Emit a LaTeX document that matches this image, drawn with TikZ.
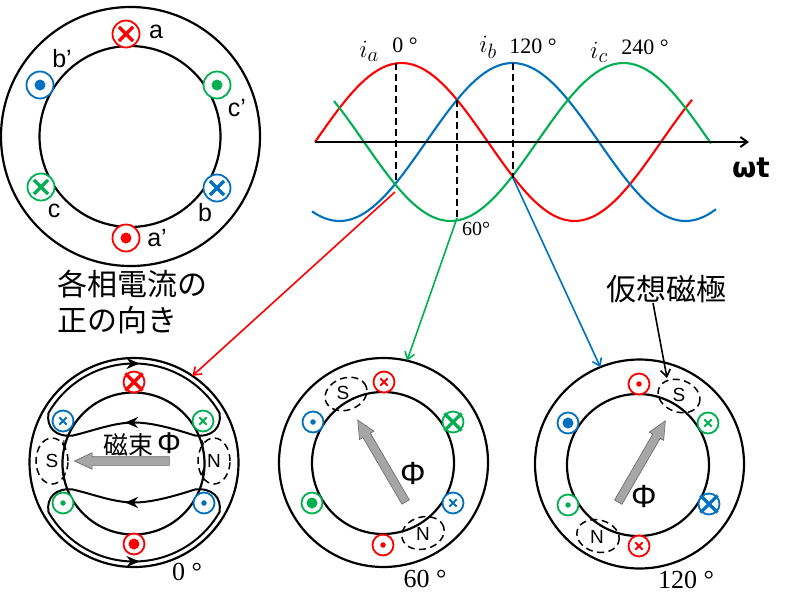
\documentclass[tikz,border=0pt]{standalone}
\usepackage{fontspec}
\setmainfont{Liberation Serif}
\setsansfont{Liberation Sans}
\newfontfamily\jpfont{Noto Sans CJK JP}
\newfontfamily\omegafont{DejaVu Sans}
\usepackage{xcolor}
\usepackage{tikz}
\usetikzlibrary{arrows.meta, shapes.geometric, shapes.misc, shapes.arrows}

\definecolor{phasered}{HTML}{FF0000}
\definecolor{phaseblue}{HTML}{0070C0}
\definecolor{phasegreen}{HTML}{00B050}

\tikzset{
    stator/.style={circle, draw, line width=2.2pt, minimum size=209pt, inner sep=0pt, outer sep=0pt},
    rotor/.style={circle, draw, line width=2.2pt, minimum size=142pt, inner sep=0pt, outer sep=0pt},
    coilsize/.style={minimum size=21pt},
    coil/.style={circle, draw=#1, fill=white, line width=1.8pt, inner sep=0pt, coilsize},
    largecross/.style={cross out, draw=#1, line width=3.2pt, minimum size=11pt, inner sep=0pt},
    bigcross/.style={cross out, draw=#1, line width=3.2pt, minimum size=14pt, inner sep=0pt},
    smallcross/.style={cross out, draw=#1, line width=1.8pt, minimum size=5.5pt, inner sep=0pt},
    bigdot/.style={circle, fill=#1, minimum size=11pt, inner sep=0pt},
    smalldot/.style={circle, fill=#1, minimum size=5.5pt, inner sep=0pt},
    pole/.style={ellipse, draw, dashed, dash pattern=on 7pt off 4.5pt, line width=1.5pt, minimum width=43pt, minimum height=32pt, inner sep=0pt},
    polename/.style={font=\sffamily\fontsize{19}{19}\selectfont, inner sep=0pt},
    fluxarrow/.style={single arrow, draw=black!60, fill=black!35, line width=.6pt, inner sep=4pt, single arrow head extend=4pt, single arrow head indent=0pt, single arrow tip angle=50, outer sep=0pt},
    fluxsym/.style={font=\sffamily\fontsize{32}{32}\selectfont, inner sep=0pt},
    letter/.style={font=\sffamily\fontsize{25}{25}\selectfont, inner sep=0pt},
    angletext/.style={font=\fontsize{26}{26}\selectfont, inner sep=0pt},
    toplabel/.style={font=\fontsize{22}{22}\selectfont, inner sep=0pt},
    phasename/.style={font=\fontsize{28}{28}\selectfont, inner sep=0pt},
    jptext/.style={font=\jpfont\fontsize{30}{36}\selectfont, inner sep=0pt, align=left},
    wave/.style={line width=2.1pt, smooth, samples=90},
    peakline/.style={dashed, dash pattern=on 7pt off 4pt, line width=2pt},
    pointer/.style={line width=1.6pt, ->},
    fluxline/.style={line width=2pt},
    bigtip/.style={fluxline, -{Stealth[length=13pt,width=11pt]}},
    smalltip/.style={line width=1pt, -{Stealth[length=5pt,width=4pt]}}
}

% conductor: circle and its cross or dot
\newcommand{\coil}[4]{
    \node[coil=#3] (#1) at (#2) {};
    \node[#4=#3] (#1mark) at (#1) {};
}

\begin{document}
\begin{tikzpicture}[x=1pt, y=-1pt, >={Straight Barb[length=7pt,width=10pt]}]
    \useasboundingbox (0,0) rectangle (792,595);

    % Positive current directions
    \node[stator, minimum size=259pt] (refouter) at (130.5,136.5) {};
    \node[rotor, minimum size=181pt] (refinner) at (130,136.5) {};
    \begin{scope}[coilsize/.style={minimum size=27pt}]
        \coil{refa}{126,34}{phasered}{largecross}
        \coil{refaa}{126,238}{phasered}{bigdot}
        \coil{refbb}{40,85}{phaseblue}{bigdot}
        \coil{refcc}{217,85}{phasegreen}{bigdot}
        \coil{refc}{41,187}{phasegreen}{largecross}
        \coil{refb}{217,188}{phaseblue}{largecross}
    \end{scope}
    \node[letter] (laba) at (156,32) {a};
    \node[letter] (labaa) at (157,238) {a’};
    \node[letter] (labbb) at (62,59) {b’};
    \node[letter] (labcc) at (237,108) {c’};
    \node[letter] (labc) at (54,211) {c};
    \node[letter] (labb) at (205,213) {b};
    \node[jptext, anchor=north west] (dirtext) at (57,270) {各相電流の\\正の向き};

    % Three phase currents
    \draw[wave, phasered, domain=315:692] plot (\x, {142-79*sin(1.0405*(\x-315))});
    \draw[wave, phaseblue, domain=312:716] plot (\x, {142-79*sin(1.0405*(\x-426))});
    \draw[wave, phasegreen, domain=334:711] plot (\x, {142-79*sin(1.0405*(\x-537))});
    \coordinate (axisstart) at (315,142);
    \coordinate (axisend) at (749,142);
    \draw[line width=2pt, ->] (axisstart) -- (axisend);
    \node[font=\omegafont\bfseries\fontsize{28}{28}\selectfont, inner sep=0pt] (omegat) at (751,168) {ωt};

    % Time marks
    \coordinate (peaka) at (396,63);
    \coordinate (peakb) at (513,63);
    \coordinate (crossab) at (457,100);
    \coordinate (marka) at (396,183);
    \coordinate (markb) at (513,178);
    \coordinate (markab) at (457,218);
    \coordinate (starta) at (395,192);
    \draw[peakline] (peaka) -- (marka);
    \draw[peakline] (crossab) -- (markab);
    \draw[peakline] (peakb) -- (markb);
    \node[phasename] (labia) at (369,51) {$i_a$};
    \node[toplabel] (lab0) at (405,45) {0 °};
    \node[phasename] (labib) at (488,47) {$i_b$};
    \node[toplabel] (lab120) at (533,46) {120 °};
    \node[phasename] (labic) at (599,52) {$i_c$};
    \node[toplabel] (lab240) at (645,47) {240 °};
    \node[toplabel, font=\fontsize{20}{20}\selectfont] (lab60) at (476,229) {60°};

    % Motor at 0 degrees
    \node[stator] (motor0) at (134,462.5) {};
    \node[rotor] (rotor0) at (133.5,463.5) {};
    \foreach \flip in {-1,1} {
        \begin{scope}[shift={(134,462.5)}, yscale=\flip]
            \draw[fluxline] (85.5,-49.5) .. controls (68,-80) and (35.4,-99) .. (0,-99)
                .. controls (-35.4,-99) and (-68,-80) .. (-85.5,-49.5)
                .. controls (-88,-35) and (-78,-25) .. (-61,-27)
                .. controls (-40,-32) and (-20,-40) .. (0,-40)
                .. controls (20,-40) and (45,-32) .. (61,-27)
                .. controls (78,-25) and (88,-35) .. (85.5,-49.5);
        \end{scope}
    }
    \draw[bigtip] (132,363.5) -- (139.5,363.5);
    \draw[bigtip] (132,561.5) -- (139.5,561.5);
    \draw[bigtip] (135,422.5) -- (125,422.5);
    \draw[bigtip] (135,502.5) -- (125,502.5);
    \draw[smalltip] (202,440) -- (203,447);
    \draw[smalltip] (203,470) -- (202,477);
    \draw[smalltip] (64,440) -- (63.5,447);
    \draw[smalltip] (63.5,470) -- (64,477);
    \node[pole, minimum width=32pt, minimum height=46pt] (s0) at (52,461) {};
    \node[pole, minimum width=32pt, minimum height=46pt] (n0) at (214,461) {};
    \node[polename] (s0name) at (52,461) {S};
    \node[polename] (n0name) at (214,461) {N};
    \coil{a0}{134,382}{phasered}{bigcross}
    \coil{aa0}{134,544}{phasered}{bigdot}
    \coil{bb0}{63,421}{phaseblue}{smallcross}
    \coil{cc0}{203,421}{phasegreen}{smallcross}
    \coil{c0}{63,503}{phasegreen}{smalldot}
    \coil{b0}{204,503}{phaseblue}{smalldot}
    \node[fluxarrow, minimum height=95pt, rotate=180] (phi0) at (126.5,461) {};
    \node[jptext, font=\jpfont\fontsize{25}{25}\selectfont] (phi0text) at (128,445) {磁束};
    \node[fluxsym, font=\sffamily\fontsize{30}{30}\selectfont] (phi0sym) at (169,443) {Φ};
    \node[angletext] (deg0) at (187,572) {0 °};

    % Motor at 60 degrees
    \node[stator] (motor60) at (383.5,462.5) {};
    \node[rotor] (rotor60) at (383,463) {};
    \node[pole, rotate=20] (s60) at (346,394) {};
    \node[pole, rotate=15] (n60) at (423,533) {};
    \node[polename] (s60name) at (343,393) {S};
    \node[polename] (n60name) at (423,534) {N};
    \coil{a60}{384,382}{phasered}{smallcross}
    \coil{aa60}{383,545}{phasered}{smalldot}
    \coil{bb60}{313,422}{phaseblue}{smalldot}
    \coil{cc60}{453,422}{phasegreen}{bigcross}
    \coil{c60}{312,503}{phasegreen}{bigdot}
    \coil{b60}{453,503}{phaseblue}{smallcross}
    \node[fluxarrow, minimum height=95pt, rotate=120.3] (phi60) at (384,465) {};
    \node[fluxsym] (phi60sym) at (413,473) {Φ};
    \node[angletext] (deg60) at (425,579) {60 °};

    % Motor at 120 degrees
    \node[stator] (motor120) at (639.5,464) {};
    \node[rotor] (rotor120) at (638,465) {};
    \node[pole, rotate=-20] (s120) at (679,396) {};
    \node[pole, rotate=-15] (n120) at (598,536) {};
    \node[polename] (s120name) at (679,395) {S};
    \node[polename] (n120name) at (597,537) {N};
    \coil{a120}{639,546}{phasered}{smallcross}
    \coil{aa120}{639,384}{phasered}{smalldot}
    \coil{bb120}{568,423}{phaseblue}{bigdot}
    \coil{cc120}{708,423}{phasegreen}{smallcross}
    \coil{c120}{568,505}{phasegreen}{smalldot}
    \coil{b120}{709,504}{phaseblue}{bigcross}
    \node[fluxarrow, minimum height=94pt, rotate=59.9] (phi120) at (639.5,465.5) {};
    \node[fluxsym] (phi120sym) at (644,496) {Φ};
    \node[angletext] (deg120) at (686,580) {120 °};

    % Virtual pole note
    \node[jptext] (virtual) at (666,289) {仮想磁極};
    \coordinate (virtualfrom) at (653,303);
    \coordinate (virtualtip) at (667,378);
    \draw[pointer, black] (virtualfrom) -- (virtualtip);

    % Wave points to motors
    \draw[pointer, phasered] (starta) -- (motor0.56);
    \draw[pointer, phasegreen] (markab) -- (motor60.77);
    \draw[pointer, phaseblue] (markb) -- (motor120.112);
\end{tikzpicture}
\end{document}
